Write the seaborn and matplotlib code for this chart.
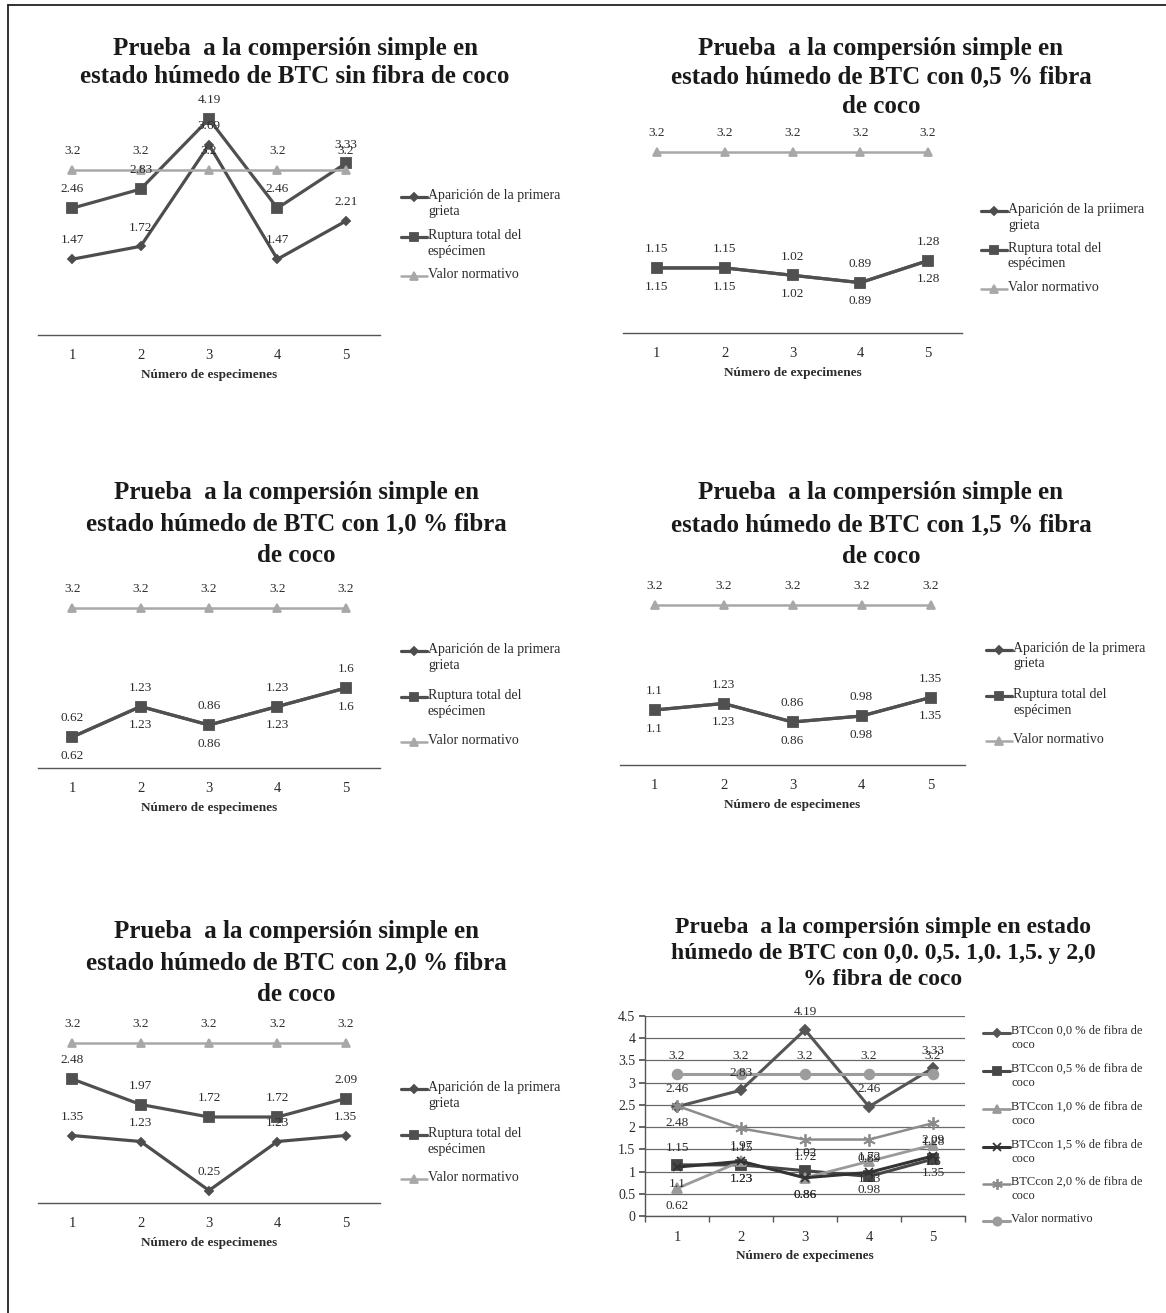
import matplotlib
matplotlib.use("Agg")
import matplotlib.pyplot as plt
import seaborn as sns
import pandas as pd
from matplotlib.lines import Line2D

sns.set_theme(style="white")
plt.rcParams['font.family'] = ['Liberation Serif', 'DejaVu Serif']

# ---------------------------------------------------------------- data
especimenes = [1, 2, 3, 4, 5]
valor_normativo = [3.2, 3.2, 3.2, 3.2, 3.2]

aparicion_00 = [1.47, 1.72, 3.69, 1.47, 2.21]
ruptura_00 = [2.46, 2.83, 4.19, 2.46, 3.33]

aparicion_05 = [1.15, 1.15, 1.02, 0.89, 1.28]
ruptura_05 = [1.15, 1.15, 1.02, 0.89, 1.28]

aparicion_10 = [0.62, 1.23, 0.86, 1.23, 1.6]
ruptura_10 = [0.62, 1.23, 0.86, 1.23, 1.6]

aparicion_15 = [1.1, 1.23, 0.86, 0.98, 1.35]
ruptura_15 = [1.1, 1.23, 0.86, 0.98, 1.35]

aparicion_20 = [1.35, 1.23, 0.25, 1.23, 1.35]
ruptura_20 = [2.48, 1.97, 1.72, 1.72, 2.09]

serie_labels = ["Aparición de la primera\ngrieta",
                "Ruptura total del\nespécimen",
                "Valor normativo"]
serie_labels_05 = ["Aparición de la priimera\ngrieta",
                   "Ruptura total del\nespécimen",
                   "Valor normativo"]

titles = [
    "Prueba  a la compersión simple en\nestado húmedo de BTC sin fibra de coco",
    "Prueba  a la compersión simple en\nestado húmedo de BTC con 0,5 % fibra\nde coco",
    "Prueba  a la compersión simple en\nestado húmedo de BTC con 1,0 % fibra\nde coco",
    "Prueba  a la compersión simple en\nestado húmedo de BTC con 1,5 % fibra\nde coco",
    "Prueba  a la compersión simple en\nestado húmedo de BTC con 2,0 % fibra\nde coco",
    "Prueba  a la compersión simple en estado\nhúmedo de BTC con 0,0. 0,5. 1,0. 1,5. y 2,0\n% fibra de coco",
]
xlabels = ["Número de especimenes", "Número de expecimenes",
           "Número de especimenes", "Número de especimenes",
           "Número de especimenes", "Número de expecimenes"]

combo_labels = ["BTCcon 0,0 % de fibra de\ncoco",
                "BTCcon 0,5 % de fibra de\ncoco",
                "BTCcon 1,0 % de fibra de\ncoco",
                "BTCcon 1,5 % de fibra de\ncoco",
                "BTCcon 2,0 % de fibra de\ncoco",
                "Valor normativo"]
y_ticks_combo = [0, 0.5, 1, 1.5, 2, 2.5, 3, 3.5, 4, 4.5]

# ---------------------------------------------------------------- figure
W, H = 1166, 1313
fig = plt.figure(figsize=(W / 100, H / 100), dpi=100)
fig.patch.set_facecolor("white")

TXT = "#2b2b2b"
# (color, marker, markersize, linewidth)
STY_AP = ("#4d4d4d", "D", 4.5, 2.3)
STY_RU = ("#505050", "s", 7, 2.3)
STY_VN = ("#a8a8a8", "^", 6, 1.8)


def fx(x):
    return x / W


def fy(y):
    return 1 - y / H


def px_axes(left, right, top, bottom):
    return fig.add_axes([fx(left), fy(bottom), (right - left) / W, (bottom - top) / H])


def fig_title(text, cx, top_y, size=18, spacing=1.3):
    fig.text(fx(cx), fy(top_y), text, ha="center", va="top",
             fontsize=size, fontweight="bold", color="#1a1a1a",
             linespacing=spacing)


def label_values(ax, values, above, size=9.5, off=13.5):
    for x, v in zip(especimenes, values):
        ax.annotate(f"{v:g}", (x, v), xytext=(0, off if above else -off),
                    textcoords="offset points", ha="center", va="center",
                    fontsize=size, color=TXT, annotation_clip=False)


def draw_legend(styles, labels, x0, x1, ys, size=10, spacing=1.25):
    for (col, mk, ms, lw), lab, y in zip(styles, labels, ys):
        fig.add_artist(Line2D([fx(x0), fx(x1)], [fy(y), fy(y)],
                              transform=fig.transFigure, color=col, lw=lw))
        fig.add_artist(Line2D([fx((x0 + x1) / 2)], [fy(y)], transform=fig.transFigure,
                              color=col, marker=mk, ms=ms * 0.85, mec=col, mew=1.3, lw=0))
        fig.text(fx(x1 + 1), fy(y - 8), lab, ha="left", va="top", fontsize=size,
                 color=TXT, linespacing=spacing)


def plot_series(ax, values, style):
    col, mk, ms, lw = style
    sns.lineplot(x=especimenes, y=values, ax=ax, color=col, lw=lw,
                 marker=mk, ms=ms, mec=col, mew=1.3)


def simple_panel(box, ytop, aparicion, ruptura, ap_above, ru_above,
                 title, title_xy, title_spacing, leg_x, leg_ys, labels, xlabel):
    ax = px_axes(*box)
    plot_series(ax, aparicion, STY_AP)
    plot_series(ax, ruptura, STY_RU)
    plot_series(ax, valor_normativo, STY_VN)
    label_values(ax, aparicion, ap_above)
    label_values(ax, ruptura, ru_above)
    label_values(ax, valor_normativo, True)

    ax.set_xlim(0.5, 5.5)
    ax.set_ylim(0, ytop)
    ax.set_yticks([])
    ax.set_xticks(especimenes)
    ax.set_xticklabels([str(e) for e in especimenes])
    ax.tick_params(axis="x", length=0, pad=10, labelsize=10.5, labelcolor=TXT)
    ax.set_xlabel(xlabel, fontsize=9.5, fontweight="bold", color=TXT, labelpad=5)
    ax.set_ylabel("")
    for s in ["top", "left", "right"]:
        ax.spines[s].set_visible(False)
    ax.spines["bottom"].set_color("#555555")
    ax.spines["bottom"].set_linewidth(1.0)
    ax.patch.set_alpha(0)
    if ax.get_legend() is not None:
        ax.get_legend().remove()

    draw_legend([STY_AP, STY_RU, STY_VN], labels, leg_x, leg_x + 26, leg_ys)
    fig_title(title, title_xy[0], title_xy[1], spacing=title_spacing)
    return ax


# panel 1: 0,0 %
simple_panel((38, 380, 103, 335), 4.5, aparicion_00, ruptura_00, True, True,
             titles[0], (295, 37), 1.3, 401, (197, 237, 276), serie_labels, xlabels[0])
# panel 2: 0,5 %
simple_panel((623, 962, 135, 333), 3.5, aparicion_05, ruptura_05, False, True,
             titles[1], (881, 37), 1.32, 981, (211, 250, 289), serie_labels_05, xlabels[1])
# panel 3: 1,0 %
simple_panel((38, 380, 593, 768), 3.5, aparicion_10, ruptura_10, False, True,
             titles[2], (296, 481), 1.48, 401, (651, 697, 742), serie_labels, xlabels[2])
# panel 4: 1,5 %
simple_panel((620, 965, 590, 765), 3.5, aparicion_15, ruptura_15, False, True,
             titles[3], (881, 481), 1.5, 986, (650, 696, 741), serie_labels, xlabels[3])
# panel 5: 2,0 %
simple_panel((38, 380, 1028, 1203), 3.5, aparicion_20, ruptura_20, True, True,
             titles[4], (296, 920), 1.48, 401, (1089, 1135, 1179), serie_labels, xlabels[4])

# ---------------------------------------------------------------- combined panel
ax6 = px_axes(645, 965, 1016, 1216)
combo_series = [ruptura_00, ruptura_05, ruptura_10, ruptura_15, ruptura_20, valor_normativo]
combo_styles = [
    ("#555555", "D", 5, 2.2),
    ("#474747", "s", 6.5, 2.2),
    ("#9a9a9a", "^", 6.5, 2.0),
    ("#333333", "x", 6, 2.2),
    ("#8c8c8c", (6, 2, 0), 9, 1.8),
    ("#9c9c9c", "o", 7, 2.2),
]
combo_above = [True, True, False, False, False, True]
for vals, sty in zip(combo_series, combo_styles):
    plot_series(ax6, vals, sty)
for vals, above in zip(combo_series, combo_above):
    label_values(ax6, vals, above, off=12.5)

ax6.set_xlim(0.5, 5.5)
ax6.set_ylim(0, 4.5)
ax6.set_yticks(y_ticks_combo)
ax6.set_yticklabels([f"{t:g}" for t in y_ticks_combo])
ax6.yaxis.grid(True, color="#6a6a6a", lw=0.9)
ax6.set_axisbelow(True)
ax6.set_xticks(especimenes)
ax6.set_xticklabels([str(e) for e in especimenes])
ax6.set_xticks([0.5, 1.5, 2.5, 3.5, 4.5, 5.5], minor=True)
ax6.tick_params(axis="x", which="major", length=0, pad=11, labelsize=10.5, labelcolor=TXT)
ax6.tick_params(axis="x", which="minor", length=4, color="#555555", direction="out", bottom=True)
ax6.tick_params(axis="y", length=4, color="#555555", direction="out", left=True,
                labelsize=10, labelcolor=TXT, pad=3)
ax6.set_xlabel(xlabels[5], fontsize=9.5, fontweight="bold", color=TXT, labelpad=4)
ax6.set_ylabel("")
for s in ["top", "right"]:
    ax6.spines[s].set_visible(False)
for s in ["left", "bottom"]:
    ax6.spines[s].set_color("#555555")
    ax6.spines[s].set_linewidth(1.0)
if ax6.get_legend() is not None:
    ax6.get_legend().remove()
draw_legend(combo_styles, combo_labels, 983, 1010,
            (1033, 1071, 1109, 1147, 1184, 1221), size=9, spacing=1.25)
fig_title(titles[5], 883, 917, size=17, spacing=1.3)

# page frame (left and top edges)
fig.add_artist(Line2D([fx(8), fx(8)], [0, fy(5)], transform=fig.transFigure,
                      color="#222222", lw=1.3))
fig.add_artist(Line2D([fx(8), 1], [fy(5), fy(5)], transform=fig.transFigure,
                      color="#222222", lw=1.3))

fig.savefig("out.png", dpi=100, facecolor="white")
